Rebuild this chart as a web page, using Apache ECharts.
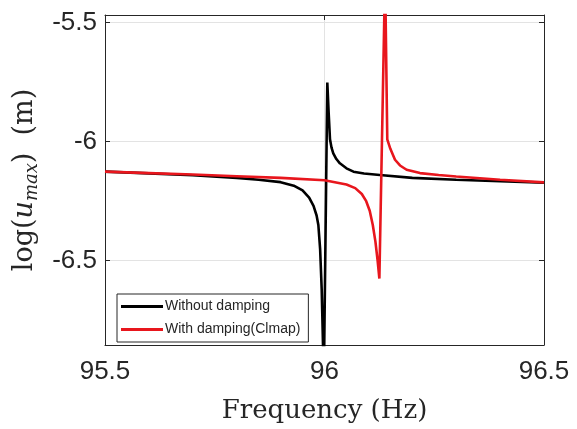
<!DOCTYPE html>
<html>
<head>
<meta charset="utf-8">
<script src="https://cdn.jsdelivr.net/npm/echarts@6/dist/echarts.min.js"></script>
<style>
html,body{margin:0;padding:0;background:#fff;}
#chart{width:577px;height:429px;}
</style>
</head>
<body>
<div id="chart"></div>
<script>
// Frequency (Hz) / log(u_max) values
const seriesNames = ['Without damping', 'With damping(Clmap)'];
const freqNoDamp = [95.5, 95.6, 95.7, 95.8, 95.85, 95.9, 95.93, 95.95, 95.965, 95.975, 95.982, 95.986, 95.99, 95.9936, 95.9985,
  96.0064, 96.0095, 96.0125, 96.016, 96.02, 96.027, 96.035, 96.05, 96.066, 96.09, 96.126, 96.2, 96.3, 96.4, 96.5];
const logNoDamp = [-6.126, -6.133, -6.141, -6.152, -6.16, -6.17, -6.185, -6.205, -6.235, -6.27, -6.31, -6.35, -6.45, -6.62, -7.0,
  -5.752, -5.88, -5.99, -6.025, -6.049, -6.073, -6.091, -6.112, -6.126, -6.134, -6.14, -6.152, -6.16, -6.166, -6.172];
const freqDamp = [95.5, 95.6, 95.7, 95.8, 95.9, 96.0, 96.05, 96.07, 96.085, 96.095, 96.103, 96.11, 96.116, 96.121, 96.125,
  96.138, 96.143, 96.15, 96.1606, 96.172, 96.187, 96.2175, 96.26, 96.3, 96.4, 96.5];
const logDamp = [-6.126, -6.132, -6.138, -6.145, -6.152, -6.162, -6.18, -6.195, -6.22, -6.25, -6.29, -6.35, -6.42, -6.5, -6.575,
  -5.3, -5.99, -6.03, -6.076, -6.1, -6.118, -6.132, -6.14, -6.146, -6.16, -6.171];
const xTicks = [95.5, 96, 96.5];
const yTicks = [-6.5, -6, -5.5];
const xRange = [95.5, 96.5];
const yRange = [-6.854, -5.468];

const toPairs = (xs, ys) => xs.map((x, i) => [x, ys[i]]);
const textColor = '#262626';
const gridColor = '#e3e3e3';

const chart = echarts.init(document.getElementById('chart'), null, {renderer: 'canvas'});
chart.setOption({
  animation: false,
  backgroundColor: '#fff',
  grid: {left: 105, right: 33, top: 15, bottom: 84, containLabel: false},
  legend: {
    orient: 'vertical',
    left: 117, top: 294,
    padding: [3, 8, 3, 4],
    itemGap: 4,
    itemWidth: 42, itemHeight: 3,
    icon: 'path://M0,0 L42,0 L42,3 L0,3 Z',
    borderColor: '#262626', borderWidth: 1,
    backgroundColor: '#fff',
    textStyle: {fontFamily: 'Liberation Sans', fontSize: 14, color: textColor, lineHeight: 19, padding: [0, 0, 0, -3]},
    data: seriesNames
  },
  xAxis: [{
    type: 'value', min: xRange[0], max: xRange[1], interval: 0.5,
    name: 'Frequency (Hz)', nameLocation: 'middle', nameGap: 53,
    nameTextStyle: {fontFamily: 'DejaVu Serif', fontSize: 26, color: textColor},
    axisLine: {show: true, onZero: false, lineStyle: {color: '#262626', width: 1}},
    axisTick: {show: true, inside: true, length: 5, customValues: xTicks, lineStyle: {color: '#262626'}},
    axisLabel: {fontFamily: 'Liberation Sans', fontSize: 26, color: textColor, margin: 14, customValues: xTicks,
      formatter: v => String(v)},
    splitLine: {show: true, lineStyle: {color: gridColor, width: 1}}
  }, {
    type: 'value', position: 'top', min: xRange[0], max: xRange[1], interval: 0.5,
    axisLine: {show: true, onZero: false, lineStyle: {color: '#262626', width: 1}},
    axisTick: {show: true, inside: true, length: 5, lineStyle: {color: '#262626'}},
    axisLabel: {show: false}, splitLine: {show: false}
  }],
  yAxis: [{
    type: 'value', min: yRange[0], max: yRange[1],
    name: '{a|log(}{i|u}{s|max}{a|)  (m)}',
    nameLocation: 'middle', nameGap: 62, nameRotate: 90,
    nameTextStyle: {
      rich: {
        a: {fontFamily: 'DejaVu Serif', fontSize: 27, color: textColor},
        i: {fontFamily: 'DejaVu Serif', fontStyle: 'italic', fontSize: 27, color: textColor},
        s: {fontFamily: 'DejaVu Serif', fontStyle: 'italic', fontSize: 18, color: textColor, padding: [14, 0, 0, 0]}
      }
    },
    axisLine: {show: true, onZero: false, lineStyle: {color: '#262626', width: 1}},
    axisTick: {show: true, inside: true, length: 5, customValues: yTicks, lineStyle: {color: '#262626'}},
    axisLabel: {fontFamily: 'Liberation Sans', fontSize: 26, color: textColor, margin: 8, customValues: yTicks,
      formatter: v => String(v)},
    splitLine: {show: true, lineStyle: {color: gridColor, width: 1}}
  }, {
    type: 'value', position: 'right', min: yRange[0], max: yRange[1],
    axisLine: {show: true, onZero: false, lineStyle: {color: '#262626', width: 1}},
    axisTick: {show: true, inside: true, length: 5, customValues: yTicks, lineStyle: {color: '#262626'}},
    axisLabel: {show: false}, splitLine: {show: false}
  }],
  series: [{
    name: seriesNames[0], type: 'line', xAxisIndex: 0, yAxisIndex: 0,
    data: toPairs(freqNoDamp, logNoDamp),
    symbol: 'none', smooth: false, clip: true,
    lineStyle: {color: '#000', width: 2.6}, itemStyle: {color: '#000'}, z: 3
  }, {
    name: seriesNames[1], type: 'line', xAxisIndex: 0, yAxisIndex: 0,
    data: toPairs(freqDamp, logDamp),
    symbol: 'none', smooth: false, clip: true,
    lineStyle: {color: '#e8161d', width: 2.6}, itemStyle: {color: '#e8161d'}, z: 4
  }]
});
</script>
</body>
</html>
